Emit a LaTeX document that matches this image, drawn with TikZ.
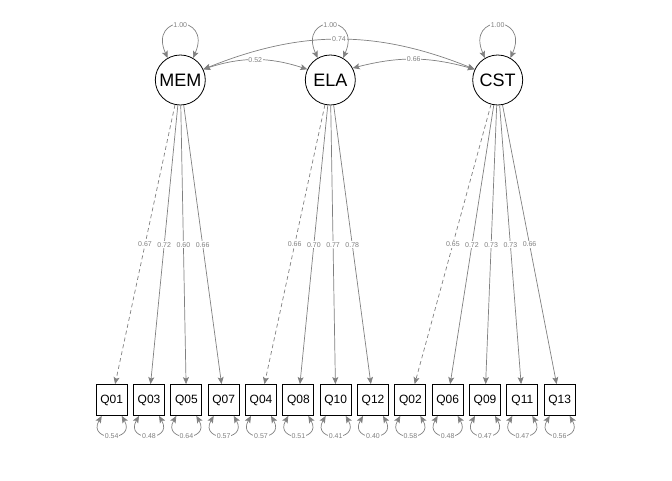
\documentclass[tikz,border=0pt]{standalone}
\usepackage{fontspec}
\setmainfont{Liberation Sans}
\usepackage{xcolor}
\usepackage{tikz}
\usetikzlibrary{arrows.meta}
\definecolor{edgegray}{RGB}{128,128,128}

\begin{document}
\begin{tikzpicture}[x=1pt, y=1pt, >={Stealth[length=7pt,width=6pt,inset=1.5pt]},
    latent/.style={draw, circle, line width=0.8pt, minimum size=50pt, inner sep=0pt, font=\fontsize{18}{20}\selectfont},
    item/.style={draw, rectangle, line width=0.8pt, minimum size=31pt, inner sep=0pt, font=\fontsize{12}{14}\selectfont},
    edge/.style={->, draw=edgegray, line width=0.7pt},
    twoway/.style={<->, draw=edgegray, line width=0.7pt},
    lbl/.style={fill=white, inner sep=0.8pt, text=edgegray, font=\fontsize{7}{8}\selectfont}]
                \useasboundingbox (0,0) rectangle (672,480);
                % latent factors
                \node[latent] (MEM) at (180.3,400) {MEM};
                \node[latent] (ELA) at (330.3,400) {ELA};
                \node[latent] (CST) at (497.7,400) {CST};
                % items
                \foreach \name [count=\i from 0] in {Q01,Q03,Q05,Q07,Q04,Q08,Q10,Q12,Q02,Q06,Q09,Q11,Q13}
                    \node[item] (\name) at (111.7+37.33*\i, 80) {\name};
                % variances
                \foreach \f in {MEM,ELA,CST}
                    \draw[twoway] (\f.120) to[out=114, in=66, looseness=4.9] node[lbl]{1.00} (\f.60);
                % covariances
                \draw[twoway] (MEM.25) to[bend left=22] node[lbl]{0.74} (CST.155);
                \draw[twoway] (MEM.25) to[bend left=18] node[lbl]{0.52} (ELA.155);
                \draw[twoway] (ELA.28) to[bend left=15] node[lbl]{0.66} (CST.155);
                % loadings (first indicator fixed, dashed)
                \foreach \f/\name/\v in {MEM/Q01/0.67, ELA/Q04/0.66, CST/Q02/0.65}
                    \draw[edge, dash pattern=on 4pt off 3pt] (\f) -- node[lbl]{\v} (\name);
                \foreach \f/\name/\v in {MEM/Q03/0.72, MEM/Q05/0.60, MEM/Q07/0.66,
                                         ELA/Q08/0.70, ELA/Q10/0.77, ELA/Q12/0.78,
                                         CST/Q06/0.72, CST/Q09/0.73, CST/Q11/0.73, CST/Q13/0.66}
                    \draw[edge] (\f) -- node[lbl]{\v} (\name);
                % residuals
                \foreach \name/\v in {Q01/0.54, Q03/0.48, Q05/0.64, Q07/0.57, Q04/0.57, Q08/0.51, Q10/0.41,
                                      Q12/0.40, Q02/0.58, Q06/0.48, Q09/0.47, Q11/0.47, Q13/0.56}
                    \draw[twoway] ([xshift=-10pt]\name.south) to[out=-120, in=-60, looseness=3.9] node[lbl]{\v} ([xshift=10pt]\name.south);
              \end{tikzpicture}
\end{document}
